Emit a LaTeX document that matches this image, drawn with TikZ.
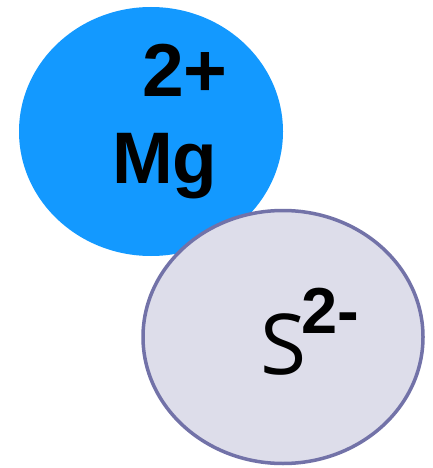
\documentclass[tikz,border=0pt]{standalone}
\usepackage{fontspec}
\setmainfont{Liberation Sans}
\newfontfamily\opensans{Open Sans}
\usetikzlibrary{shapes.geometric}
\definecolor{ionblue}{RGB}{19,153,255}
\definecolor{ionfill}{RGB}{221,221,234}
\definecolor{ionline}{RGB}{114,114,168}

\begin{document}
\begin{tikzpicture}[x=1pt, y=-1pt,
  ion/.style={ellipse, inner sep=0pt, outer sep=0pt},
  lbl/.style={inner sep=0pt, outer sep=0pt, anchor=base west, text=black}
]
  \useasboundingbox (0,0) rectangle (432,468);
  % cation
  \node[ion, fill=ionblue, minimum width=264pt, minimum height=249pt] (mg) at (151,131.5) {};
  \node[lbl, font=\fontsize{75}{75}\selectfont\bfseries] (mgcharge) at (142,97) {2+};
  \node[lbl, font=\fontsize{73}{73}\selectfont\bfseries] (mgsym) at (112,183) {Mg};
  % anion
  \node[ion, draw=ionline, line width=3.5pt, fill=ionfill, minimum width=280pt, minimum height=253pt] (s) at (283,337) {};
  \node[lbl, font=\fontsize{84}{84}\opensans] (ssym) at (260,374) {S};
  \node[lbl, font=\fontsize{65}{65}\selectfont\bfseries] (scharge) at (301,333) {2-};
\end{tikzpicture}
\end{document}
